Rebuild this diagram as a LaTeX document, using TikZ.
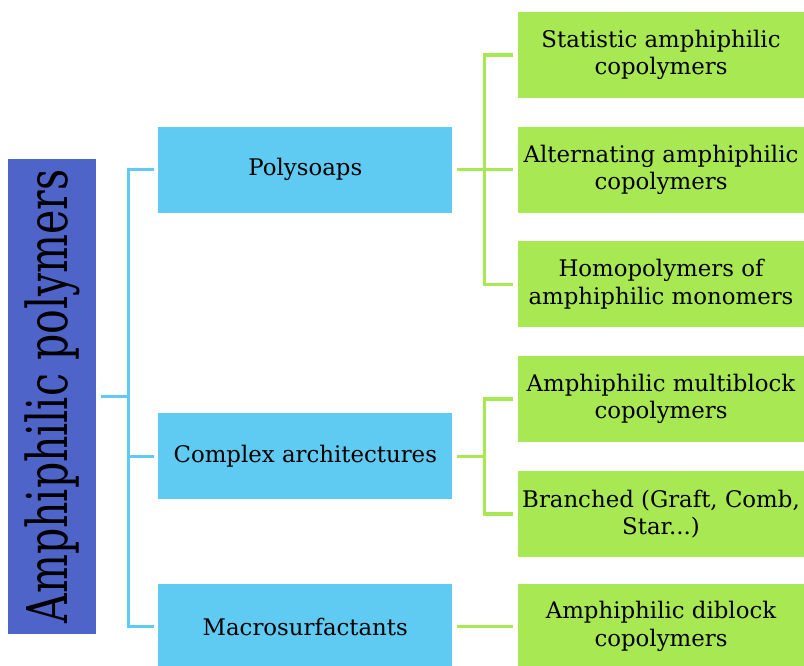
\documentclass[tikz,border=0pt]{standalone}
\usepackage{fontspec}
\setmainfont{DejaVu Serif}
\usepackage{tikz}
\usetikzlibrary{positioning, calc}
\definecolor{rootblue}{RGB}{79,100,200}
\definecolor{boxblue}{RGB}{95,203,242}
\definecolor{leafgreen}{RGB}{168,232,82}

\begin{document}
\begin{tikzpicture}[font=\fontsize{13}{15.6}\selectfont,
  rootbox/.style={fill=rootblue,minimum width=1.76cm,minimum height=9.5cm,inner sep=0pt},
  bluebox/.style={fill=boxblue,minimum width=5.88cm,minimum height=1.72cm,inner sep=0pt,align=center},
  greenbox/.style={fill=leafgreen,minimum width=5.72cm,minimum height=1.72cm,inner sep=0pt,align=center},
  blueline/.style={draw=boxblue,line width=2pt},
  greenline/.style={draw=leafgreen,line width=2pt}]
  \useasboundingbox (0,0) rectangle (16.08,-13.32);
  \node[rootbox] (root) at (1.04,-7.93) {\rotatebox{90}{\scalebox{.73}[1]{\fontsize{32}{32}\selectfont Amphiphilic polymers}}};
  \node[greenbox] (stat) at (13.22,-1.10) {Statistic amphiphilic\\copolymers};
  \node[greenbox,below=5.6mm of stat] (alt) {Alternating amphiphilic\\copolymers};
  \node[greenbox,below=5.6mm of alt] (homo) {Homopolymers of\\amphiphilic monomers};
  \node[greenbox,below=5.6mm of homo] (multi) {Amphiphilic multiblock\\copolymers};
  \node[greenbox,below=5.6mm of multi] (branch) {Branched (Graft, Comb,\\Star...)};
  \node[greenbox,below=5.2mm of branch] (diblock) {Amphiphilic diblock\\copolymers};
  \coordinate (mid) at ($(multi.west)!.5!(branch.west)$);
  \node[bluebox,left=13mm of alt] (poly) {Polysoaps};
  \node[bluebox,left=13mm of mid] (complex) {Complex architectures};
  \node[bluebox,left=13mm of diblock] (macro) {Macrosurfactants};
  % root to first level
  \coordinate (bj) at ($(root.east)+(0.64,0)$);
  \draw[blueline,shorten <=2.5pt] (root.east) -- (bj);
  \draw[blueline,shorten <=2.5pt,shorten >=2.5pt] (poly.west) -| (bj |- macro.west) -- (macro.west);
  \draw[blueline,shorten >=2.5pt] (bj |- complex.west) -- (complex.west);
  % first level to leaves
  \coordinate (gj1) at ($(poly.east)+(0.64,0)$);
  \coordinate (gj2) at ($(complex.east)+(0.64,0)$);
  \draw[greenline,shorten <=2.5pt,shorten >=2.5pt] (poly.east) -- (alt.west);
  \draw[greenline,shorten <=2.5pt,shorten >=2.5pt] (stat.west) -| (gj1 |- homo.west) -- (homo.west);
  \draw[greenline,shorten <=2.5pt] (complex.east) -- (gj2);
  \draw[greenline,shorten <=2.5pt,shorten >=2.5pt] (multi.west) -| (gj2 |- branch.west) -- (branch.west);
  \draw[greenline,shorten <=2.5pt,shorten >=2.5pt] (macro.east) -- (diblock.west);
\end{tikzpicture}
\end{document}
